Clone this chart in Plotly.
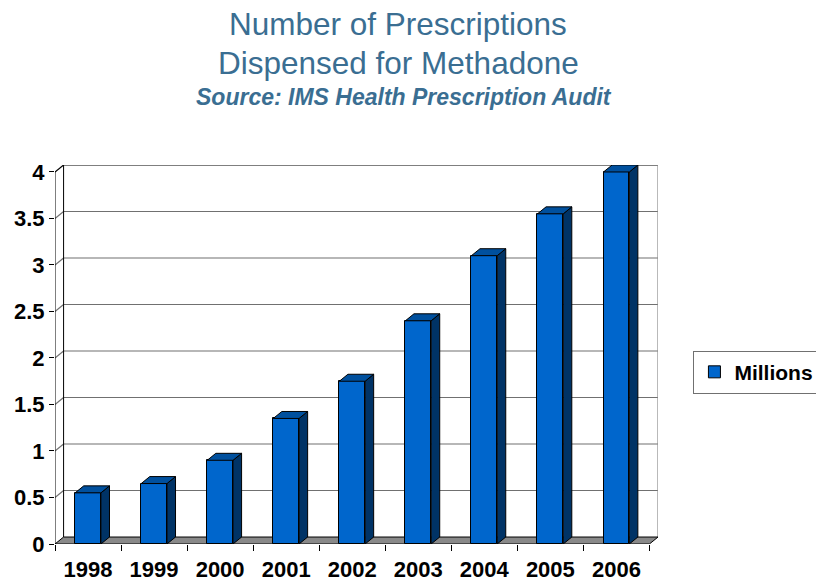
import plotly.graph_objects as go

years = ["1998", "1999", "2000", "2001", "2002", "2003", "2004", "2005", "2006"]
millions = [0.55, 0.65, 0.9, 1.35, 1.75, 2.4, 3.1, 3.55, 4.0]
y_ticks = [0, 0.5, 1, 1.5, 2, 2.5, 3, 3.5, 4]
y_ticktext = ["0", "0.5", "1", "1.5", "2", "2.5", "3", "3.5", "4"]

idx = list(range(len(years)))
BW = 0.39          # bar width (category units)
DX = 0.13          # depth offset in x units
DY = 0.075         # depth offset in y units
X0, X1 = -0.5, len(years) - 0.5
YMAX = max(y_ticks)

FRONT = "#0066CC"
SIDE = "#003366"
TOP = "#00509E"
FONT = "Liberation Sans, Arial"

fig = go.Figure()

# bar fronts
fig.add_trace(go.Bar(x=idx, y=millions, width=BW, name="<b>Millions</b>",
                     marker=dict(color=FRONT, line=dict(color="black", width=1)),
                     hoverinfo="skip"))

# side faces and tops
sx, sy, tx, ty = [], [], [], []
for i, v in zip(idx, millions):
    r = i + BW / 2
    l = i - BW / 2
    sx += [r, r + DX, r + DX, r, r, None]
    sy += [0, DY, v + DY, v, 0, None]
    tx += [l, r, r + DX, l + DX, l, None]
    ty += [v, v, v + DY, v + DY, v, None]
fig.add_trace(go.Scatter(x=sx, y=sy, fill="toself", fillcolor=SIDE, mode="lines",
                         line=dict(color="black", width=1), showlegend=False, hoverinfo="skip"))
fig.add_trace(go.Scatter(x=tx, y=ty, fill="toself", fillcolor=TOP, mode="lines",
                         line=dict(color="black", width=1), showlegend=False, hoverinfo="skip"))

shapes = []
# gridlines on side wall and back wall
for v in y_ticks[1:]:
    col = "black" if v == YMAX else "#707070"
    shapes.append(dict(type="line", xref="x", yref="y", x0=X0, y0=v, x1=X0 + DX, y1=v + DY,
                       line=dict(color=col, width=1.2), layer="between"))
    shapes.append(dict(type="line", xref="x", yref="y", x0=X0 + DX, y0=v + DY, x1=X1 + DX, y1=v + DY,
                       line=dict(color=col, width=1.2), layer="between"))
# back wall right edge
shapes.append(dict(type="line", xref="x", yref="y", x0=X1 + DX, y0=DY, x1=X1 + DX, y1=YMAX + DY,
                   line=dict(color="#8a8a8a", width=1.2), layer="between"))
# side wall back edge
shapes.append(dict(type="line", xref="x", yref="y", x0=X0 + DX, y0=DY, x1=X0 + DX, y1=YMAX + DY,
                   line=dict(color="black", width=1), layer="between"))
# floor
shapes.append(dict(type="path", xref="x", yref="y",
                   path=f"M{X0},0 L{X1},0 L{X1 + DX},{DY} L{X0 + DX},{DY} Z",
                   fillcolor="#898989", line=dict(color="black", width=1), layer="between"))
# front-left vertical edge
shapes.append(dict(type="line", xref="x", yref="y", x0=X0, y0=0, x1=X0, y1=YMAX,
                   line=dict(color="black", width=1), layer="above"))

TITLE_COLOR = "#3A6E92"
annotations = [
    dict(text="Number of Prescriptions", xref="paper", yref="paper", x=(398 - 55) / 602.6,
         y=(544 - 23) / 379.4, showarrow=False, xanchor="center", yanchor="middle",
         font=dict(family=FONT, size=31.5, color=TITLE_COLOR)),
    dict(text="Dispensed for Methadone", xref="paper", yref="paper", x=(398 - 55) / 602.6,
         y=(544 - 62) / 379.4, showarrow=False, xanchor="center", yanchor="middle",
         font=dict(family=FONT, size=31.5, color=TITLE_COLOR)),
    dict(text="<b><i>Source: IMS Health Prescription Audit</i></b>", xref="paper", yref="paper",
         x=(404 - 55) / 602.6, y=(544 - 97) / 379.4, showarrow=False, xanchor="center",
         yanchor="middle", font=dict(family=FONT, size=23, color=TITLE_COLOR)),
]

fig.update_layout(
    width=816, height=583,
    margin=dict(l=55, r=158.4, t=164.6, b=39, pad=0, autoexpand=False),
    paper_bgcolor="white", plot_bgcolor="white",
    shapes=shapes, annotations=annotations,
    showlegend=True,
    legend=dict(x=(693 - 55) / 602.6, y=(544 - 372) / 379.4, xanchor="left", yanchor="middle",
                bordercolor="#707070", borderwidth=1, bgcolor="white",
                font=dict(family=FONT, size=21, color="black"),
                itemwidth=30),
    xaxis=dict(range=[X0, X1 + DX], tickmode="array", tickvals=idx,
               ticktext=[f"<b>{y}</b>" for y in years], automargin=False,
               ticks="outside", ticklen=6, tickcolor="rgba(0,0,0,0)",
               showgrid=False, zeroline=False, showline=False,
               tickfont=dict(family=FONT, size=22, color="black"),
               minor=dict(tick0=-0.5, dtick=1, ticks="outside", ticklen=6, tickcolor="black",
                          showgrid=False)),
    yaxis=dict(range=[0, YMAX + DY], tickmode="array", tickvals=y_ticks,
               ticktext=[f"<b>{t}</b>" for t in y_ticktext], automargin=False,
               ticks="outside", ticklen=5, tickcolor="black",
               showgrid=False, zeroline=False, showline=False,
               tickfont=dict(family=FONT, size=22, color="black")),
    bargap=0,
)

fig.write_html("out.html")
